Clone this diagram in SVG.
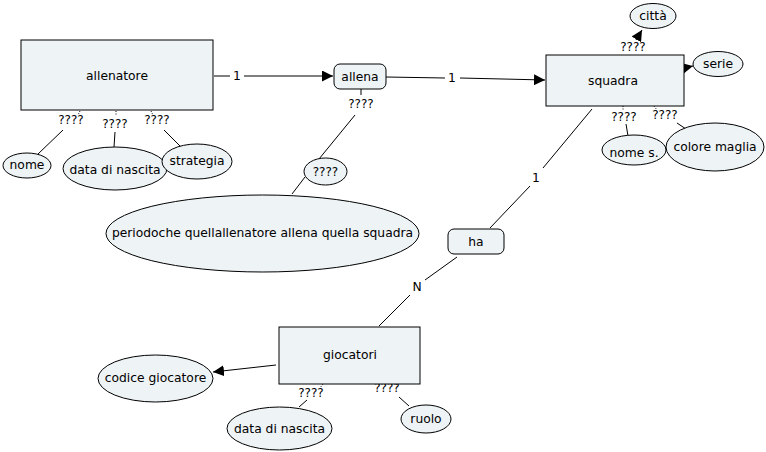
<svg xmlns="http://www.w3.org/2000/svg" width="766" height="452" viewBox="0 0 766 452">
<style>
.n{fill:#eef3f5;stroke:#000;stroke-width:1}
.t{font-family:"DejaVu Sans",Verdana,sans-serif;font-size:12.3px;fill:#000;text-anchor:middle;dominant-baseline:central}
.q{font-family:"DejaVu Sans",Verdana,sans-serif;font-size:12px;fill:#000;text-anchor:middle;dominant-baseline:central}
.c line{stroke:#000;stroke-width:1}
.d{stroke-dasharray:1 1.5}
</style>
<defs>
<marker id="a" viewBox="0 0 10 10" refX="10" refY="5" markerWidth="11" markerHeight="11" markerUnits="userSpaceOnUse" orient="auto">
<path d="M0,0 L10,5 L0,10 z" fill="#000"/>
</marker>
</defs>
<rect width="766" height="452" fill="#fff"/>
<g class="c" id="connectors">
<line x1="214" y1="76" x2="230" y2="76"/>
<line x1="244" y1="76" x2="333" y2="76" marker-end="url(#a)"/>
<line x1="386" y1="77" x2="445" y2="78"/>
<line x1="460" y1="78" x2="545" y2="80" marker-end="url(#a)"/>
<line x1="636" y1="40" x2="642" y2="30" marker-end="url(#a)"/>
<line x1="684" y1="68" x2="693" y2="66" marker-end="url(#a)"/>
<line class="d" x1="623" y1="106" x2="623" y2="111"/>
<line class="d" x1="654" y1="106" x2="657" y2="110"/>
<line x1="626" y1="124" x2="628" y2="136"/>
<line x1="677" y1="123" x2="686" y2="129"/>
<line x1="361" y1="89" x2="361" y2="95"/>
<line x1="355" y1="115" x2="319" y2="159"/>
<line x1="305" y1="177" x2="292" y2="194"/>
<line x1="592" y1="109" x2="543" y2="168"/>
<line x1="530" y1="186" x2="490" y2="228"/>
<line x1="457" y1="257" x2="425" y2="280"/>
<line x1="410" y1="295" x2="379" y2="326"/>
<line x1="276" y1="365" x2="213" y2="372" marker-end="url(#a)"/>
<line class="d" x1="323" y1="384" x2="320" y2="388"/>
<line class="d" x1="396" y1="384" x2="398" y2="388"/>
<line x1="307" y1="400" x2="299" y2="407"/>
<line x1="399" y1="397" x2="409" y2="406"/>
<line class="d" x1="80" y1="111" x2="78" y2="115"/>
<line class="d" x1="116" y1="111" x2="116" y2="116"/>
<line class="d" x1="151" y1="111" x2="153" y2="115"/>
<line x1="63" y1="130" x2="38" y2="154"/>
<line x1="115" y1="132" x2="114" y2="147"/>
<line x1="164" y1="130" x2="181" y2="147"/>
<text class="t" x="237" y="76">1</text>
<text class="t" x="452" y="78">1</text>
<text class="t" x="536" y="178">1</text>
<text class="t" x="417" y="287">N</text>
<text class="q" x="633" y="47">????</text>
<text class="q" x="624" y="117">????</text>
<text class="q" x="665" y="115">????</text>
<text class="q" x="361" y="104">????</text>
<text class="q" x="311" y="393">????</text>
<text class="q" x="387" y="388">????</text>
<text class="q" x="71" y="120">????</text>
<text class="q" x="115" y="124">????</text>
<text class="q" x="157" y="120">????</text>
</g>
<g id="allenatore"><rect class="n" x="21" y="40" width="192" height="70"/><text class="t" x="117" y="76">allenatore</text></g>
<g id="allena"><rect class="n" x="334" y="64" width="52" height="25" rx="6"/><text class="t" x="360" y="77">allena</text></g>
<g id="squadra"><rect class="n" x="546" y="55" width="138" height="51"/><text class="t" x="613" y="81">squadra</text></g>
<g id="citta"><ellipse class="n" cx="653" cy="16" rx="23" ry="12.5"/><text class="t" x="653" y="16">città</text></g>
<g id="serie"><ellipse class="n" cx="718" cy="64" rx="25" ry="12.5"/><text class="t" x="718" y="64">serie</text></g>
<g id="nome-s"><ellipse class="n" cx="634" cy="150" rx="32" ry="15"/><text class="t" x="634" y="153">nome s.</text></g>
<g id="colore-maglia"><ellipse class="n" cx="715" cy="147" rx="49" ry="24"/><text class="t" x="715" y="147">colore maglia</text></g>
<g id="q-allena"><ellipse class="n" cx="325.5" cy="171.5" rx="21.5" ry="13.5"/><text class="q" x="325.5" y="172">????</text></g>
<g id="periodo"><ellipse class="n" cx="262.5" cy="233.5" rx="156.5" ry="38.5"/><text class="t" x="262.5" y="233">periodoche quellallenatore allena quella squadra</text></g>
<g id="ha"><rect class="n" x="448" y="229" width="56" height="25" rx="6"/><text class="t" x="476" y="242">ha</text></g>
<g id="giocatori"><rect class="n" x="279" y="327" width="141" height="57"/><text class="t" x="350" y="355">giocatori</text></g>
<g id="codice-giocatore"><ellipse class="n" cx="155.5" cy="378.5" rx="57.5" ry="23.5"/><text class="t" x="155.5" y="378">codice giocatore</text></g>
<g id="data-nascita-g"><ellipse class="n" cx="279.5" cy="428.5" rx="52.5" ry="21.5"/><text class="t" x="279.5" y="429">data di nascita</text></g>
<g id="ruolo"><ellipse class="n" cx="426" cy="419" rx="25" ry="14"/><text class="t" x="426" y="419">ruolo</text></g>
<g id="nome"><ellipse class="n" cx="27" cy="165.5" rx="24" ry="12.5"/><text class="t" x="27" y="165">nome</text></g>
<g id="data-nascita-a"><ellipse class="n" cx="115" cy="168.5" rx="52" ry="21.5"/><text class="t" x="115" y="170">data di nascita</text></g>
<g id="strategia"><ellipse class="n" cx="197" cy="161.5" rx="35" ry="17.5"/><text class="t" x="197" y="161">strategia</text></g>
</svg>
